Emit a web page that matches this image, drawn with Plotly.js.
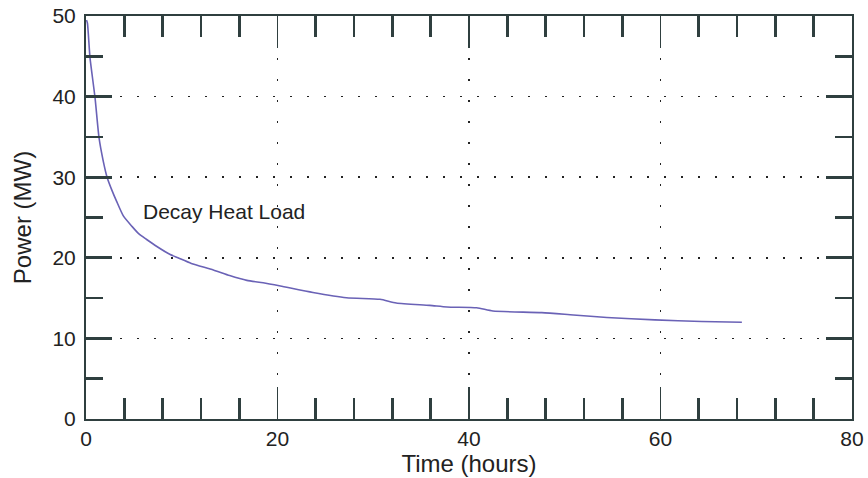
<!DOCTYPE html>
<html>
<head>
<meta charset="utf-8">
<script src="https://cdn.plot.ly/plotly-3.0.1.min.js"></script>
<style>html,body{margin:0;padding:0;background:#fff;}#chart{width:868px;height:478px;}</style>
</head>
<body>
<div id="chart"></div>
<script>
// Decay heat load curve
const timeHours = [0.05, 0.15, 0.42, 0.94, 1.36, 1.8, 2.2, 2.7, 3.2, 3.9, 4.8, 5.5, 6.3, 7.4, 8.8, 9.6, 11.0, 13.3, 15.0, 16.8, 18.5, 20.3, 23.7, 27.2, 30.7, 32.4, 35.9, 37.7, 40.8, 42.5, 47.6, 50.9, 54.4, 59.4, 64.3, 68.5];
const powerMW   = [49.5, 49.1, 44.8, 39.9, 34.9, 32.0, 30.0, 28.4, 27.0, 25.2, 23.9, 23.0, 22.3, 21.4, 20.4, 20.0, 19.3, 18.5, 17.8, 17.2, 16.9, 16.5, 15.7, 15.05, 14.85, 14.4, 14.1, 13.9, 13.8, 13.4, 13.2, 12.9, 12.6, 12.3, 12.1, 12.0];
const seriesName = "Decay Heat Load";
const xTitle = "Time (hours)";
const yTitle = "Power (MW)";

const axisColor = "#2f3f3f";
const fontFam = "Liberation Sans, Arial, sans-serif";

const trace = {
  x: timeHours, y: powerMW, type: "scatter", mode: "lines",
  name: seriesName,
  line: {color: "#6a62b6", width: 1.6, shape: "spline", smoothing: 0.6},
  hoverinfo: "skip"
};

const layout = {
  width: 868, height: 478,
  margin: {l: 86, r: 16, t: 16, b: 59, pad: 0},
  paper_bgcolor: "#fff", plot_bgcolor: "#fff",
  showlegend: false,
  font: {family: fontFam, size: 21, color: "#222"},
  xaxis: {
    range: [0, 80], dtick: 20, tick0: 0,
    ticks: "inside", ticklen: 32, tickwidth: 1.3, tickcolor: axisColor,
    showline: true, linecolor: axisColor, linewidth: 2, mirror: "ticks",
    showgrid: true, gridcolor: "#222", gridwidth: 1.6, griddash: "2px,19px",
    zeroline: false,
    minor: {dtick: 4, ticks: "inside", ticklen: 21, tickwidth: 2.6, tickcolor: axisColor, showgrid: false},
    tickfont: {size: 21, color: "#222"},
    title: {text: xTitle, font: {size: 24, color: "#222"}, standoff: 2}
  },
  yaxis: {
    range: [0, 50], dtick: 10, tick0: 0,
    ticks: "inside", ticklen: 26, tickwidth: 2.6, tickcolor: axisColor,
    showline: true, linecolor: axisColor, linewidth: 2, mirror: "ticks",
    showgrid: true, gridcolor: "#222", gridwidth: 1.6, griddash: "2px,15px",
    zeroline: false,
    minor: {dtick: 5, ticks: "inside", ticklen: 17, tickwidth: 2.6, tickcolor: axisColor, showgrid: false},
    tickfont: {size: 21, color: "#222"},
    ticklabelstandoff: 4,
    title: {text: yTitle, font: {size: 24, color: "#222"}, standoff: 14}
  },
  annotations: [{
    x: 14.4, y: 25.8, xref: "x", yref: "y",
    text: seriesName, showarrow: false,
    font: {size: 21, color: "#222", family: fontFam}
  }]
};

Plotly.newPlot("chart", [trace], layout, {displayModeBar: false, staticPlot: true});
</script>
</body>
</html>
